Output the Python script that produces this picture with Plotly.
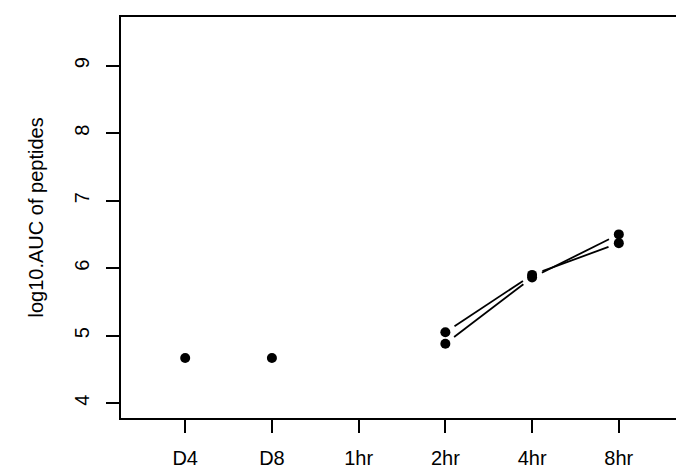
import plotly.graph_objects as go

categories = ["D4", "D8", "1hr", "2hr", "4hr", "8hr"]
cat_pos = [1, 2, 3, 4, 5, 6]

# isolated points (no connecting line)
single_x = ["D4", "D8"]
single_y = [4.67, 4.67]

# two peptides measured at 2hr, 4hr, 8hr
series_x = ["2hr", "4hr", "8hr"]
series_a = [4.88, 5.86, 6.50]
series_b = [5.05, 5.90, 6.37]

y_ticks = [4, 5, 6, 7, 8, 9]

W, H = 684, 468
ML, MR, MT, MB = 113, 9, 7, 56
XR = [0.26, 6.74]
YR = [3.78, 9.72]
pw, ph = W - ML - MR, H - MT - MB
sx = pw / (XR[1] - XR[0])
sy = ph / (YR[1] - YR[0])
GAP = 11.0

pos = dict(zip(categories, cat_pos))

fig = go.Figure()


def gapped_segments(xs, ys):
    gx, gy = [], []
    for i in range(len(xs) - 1):
        x1, y1 = pos[xs[i]], ys[i]
        x2, y2 = pos[xs[i + 1]], ys[i + 1]
        dxp, dyp = (x2 - x1) * sx, (y2 - y1) * sy
        d = (dxp ** 2 + dyp ** 2) ** 0.5
        if d <= 2 * GAP:
            continue
        f = GAP / d
        gx += [x1 + (x2 - x1) * f, x2 - (x2 - x1) * f, None]
        gy += [y1 + (y2 - y1) * f, y2 - (y2 - y1) * f, None]
    return gx, gy


for s in (series_a, series_b):
    gx, gy = gapped_segments(series_x, s)
    fig.add_trace(go.Scatter(x=gx, y=gy, mode="lines",
                             line=dict(color="black", width=1.8),
                             showlegend=False, hoverinfo="skip"))

all_x = [pos[c] for c in single_x] + [pos[c] for c in series_x] * 2
all_y = single_y + series_a + series_b
fig.add_trace(go.Scatter(x=all_x, y=all_y, mode="markers",
                         marker=dict(color="black", size=10, line=dict(width=0)),
                         showlegend=False))

FONT = "Liberation Sans, Arial, sans-serif"
fig.update_layout(
    width=W, height=H,
    margin=dict(l=ML, r=MR, t=MT, b=MB, pad=0),
    paper_bgcolor="white", plot_bgcolor="white",
    font=dict(family=FONT, size=20, color="black"),
    xaxis=dict(range=XR, tickvals=cat_pos, ticktext=categories,
               showgrid=False, zeroline=False, showline=True, mirror=True,
               linecolor="black", linewidth=2, ticks="outside", ticklen=13,
               tickwidth=2, tickcolor="black", tickfont=dict(size=20),
               ticklabelstandoff=8),
    yaxis=dict(range=YR, tickvals=y_ticks, ticktext=[str(v) for v in y_ticks],
               tickangle=-90,
               showgrid=False, zeroline=False, showline=True, mirror=True,
               linecolor="black", linewidth=2, ticks="outside", ticklen=13,
               tickwidth=2, tickcolor="black", tickfont=dict(size=20),
               ticklabelstandoff=9),
    annotations=[dict(text="log10.AUC of peptides", xref="paper", yref="paper",
                      x=0, y=0.5, xshift=-86, textangle=-90, showarrow=False,
                      font=dict(family=FONT, size=20), xanchor="center",
                      yanchor="middle")],
)

fig.write_html("out.html")
